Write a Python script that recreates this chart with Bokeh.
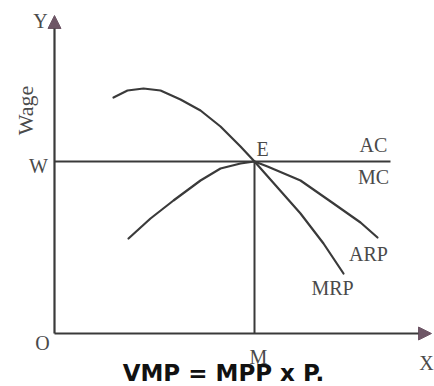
import math
from bokeh.plotting import figure
from bokeh.models import Range1d, Arrow, NormalHead, ColumnDataSource
from bokeh.core.properties import value
from bokeh.embed import file_html
from bokeh.resources import INLINE

# ---- data (labour units on x, wage on y) ----
mrp_x = [2.95, 3.65, 4.45, 5.3, 6.3, 7.3, 8.3, 9.3, 10.0, 11.15, 12.3, 13.45, 14.45]
mrp_y = [11.8, 12.15, 12.25, 12.15, 11.7, 11.15, 10.35, 9.35, 8.6, 7.3, 6.0, 4.5, 3.0]
arp_x = [3.7, 4.8, 5.95, 7.3, 8.3, 9.3, 10.0, 10.65, 12.3, 13.95, 15.3, 16.15]
arp_y = [4.75, 5.75, 6.65, 7.65, 8.25, 8.5, 8.6, 8.35, 7.65, 6.5, 5.55, 4.8]
wage_level = 8.6          # W  (AC = MC)
labour_eq = 10.0          # M
wage_line_end = 16.8
x_axis_max = 18.85
y_axis_max = 15.9

label_text = ["Y", "W", "E", "AC", "MC", "ARP", "MRP", "O", "M", "X"]
label_x = [-0.7, -0.8, 10.4, 15.95, 15.95, 15.7, 13.9, -0.6, 10.2, 18.6]
label_y = [15.65, 8.4, 9.25, 9.45, 7.85, 4.0, 2.3, -0.45, -1.15, -1.45]
y_title = "Wage"
caption = "VMP = MPP x P."

LINE = "#3a3a3a"
TXT = "#4a4a4a"
HEAD = "#6e5666"

p = figure(width=434, height=386, output_backend="svg", toolbar_location=None,
           x_range=Range1d(-2.7, 19.0), y_range=Range1d(-2.65, 16.65),
           min_border=0, outline_line_color=None)
p.axis.visible = False
p.grid.visible = False
p.background_fill_color = "white"

# axes with arrow heads
p.add_layout(Arrow(end=NormalHead(size=13, fill_color=HEAD, line_color=HEAD),
                   x_start=0, y_start=0, x_end=x_axis_max, y_end=0,
                   line_color=LINE, line_width=2.2))
p.add_layout(Arrow(end=NormalHead(size=13, fill_color=HEAD, line_color=HEAD),
                   x_start=0, y_start=0, x_end=0, y_end=y_axis_max,
                   line_color=LINE, line_width=2.2))

# AC = MC wage line and vertical at M
p.line([0, wage_line_end], [wage_level, wage_level], line_color=LINE, line_width=2)
p.line([labour_eq, labour_eq], [0, wage_level], line_color=LINE, line_width=2)

# curves
p.line(mrp_x, mrp_y, line_color=LINE, line_width=2.2, line_join="round", line_cap="round")
p.line(arp_x, arp_y, line_color=LINE, line_width=2.2, line_join="round", line_cap="round")

src = ColumnDataSource(dict(x=label_x, y=label_y, t=label_text))
p.text(x="x", y="y", text="t", source=src, text_font=value("Liberation Serif"),
       text_font_size="20px", text_color=TXT, text_align="center", text_baseline="middle")

p.text(x=[-1.45], y=[11.15], text=[y_title], angle=math.pi / 2,
       text_font=value("Liberation Serif"), text_font_size="22px", text_color=TXT,
       text_align="center", text_baseline="middle")

p.text(x=[8.45], y=[-1.95], text=[caption], text_font=value("DejaVu Sans"),
       text_font_style="bold", text_font_size="23px", text_color="#111111",
       text_align="center", text_baseline="middle")

open("out.html", "w").write(file_html(p, INLINE))
